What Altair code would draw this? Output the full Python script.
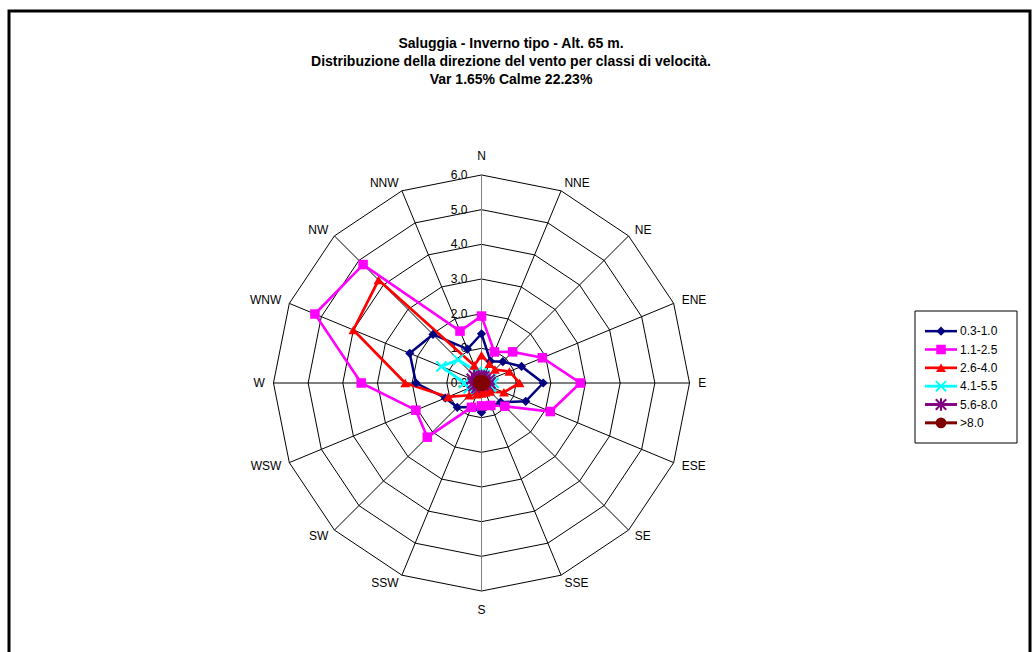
import altair as alt
import pandas as pd

# Wind-rose: frequency (%) per direction sector and wind-speed class
directions = ["N", "NNE", "NE", "ENE", "E", "ESE", "SE", "SSE",
              "S", "SSW", "SW", "WSW", "W", "WNW", "NW", "NNW"]
classes = ["0.3-1.0", "1.1-2.5", "2.6-4.0", "4.1-5.5", "5.6-8.0", ">8.0"]

freq_03_10 = [1.42, 0.68, 0.87, 1.25, 1.78, 1.38, 0.78, 0.72,
              0.85, 0.75, 0.99, 1.13, 1.89, 2.24, 1.98, 1.06]
freq_11_25 = [1.93, 0.97, 1.27, 1.90, 2.85, 2.15, 0.95, 0.70,
              0.66, 0.76, 2.21, 2.05, 3.47, 5.20, 4.83, 1.62]
freq_26_40 = [0.80, 0.60, 0.55, 0.87, 1.10, 0.70, 0.35, 0.30,
              0.30, 0.35, 0.50, 1.05, 2.20, 4.00, 4.20, 0.55]
freq_41_55 = [0.30, 0.25, 0.25, 0.30, 0.35, 0.30, 0.30, 0.25,
              0.25, 0.30, 0.35, 0.40, 0.50, 1.25, 0.95, 0.35]
freq_56_80 = [0.20, 0.20, 0.20, 0.25, 0.25, 0.20, 0.20, 0.20,
              0.20, 0.20, 0.20, 0.25, 0.25, 0.30, 0.30, 0.20]
freq_gt_80 = [0.08, 0.08, 0.08, 0.08, 0.10, 0.08, 0.08, 0.08,
              0.08, 0.08, 0.08, 0.08, 0.10, 0.10, 0.10, 0.08]

ring_values = [0, 1, 2, 3, 4, 5, 6]
ring_labels = ["0.0", "1.0", "2.0", "3.0", "4.0", "5.0", "6.0"]

title_lines = [
    "Saluggia - Inverno tipo - Alt. 65 m.",
    "Distribuzione della direzione del vento per classi di velocità.",
    "Var 1.65% Calme 22.23%",
]

colors = ["#000080", "#FF00FF", "#FF0000", "#00FFFF", "#800080", "#800000"]
shapes = ["diamond", "square", "triangle-up",
          "M-1,-1L1,1M-1,1L1,-1",
          "M-1,-1L1,1M-1,1L1,-1M0,-1.2L0,1.2",
          "circle"]
marker_sizes = [85, 115, 110, 100, 60, 110]
line_widths = [2.5, 3, 3, 2.5, 1.5, 2.5]

series = [freq_03_10, freq_11_25, freq_26_40, freq_41_55, freq_56_80, freq_gt_80]

# ---- tables --------------------------------------------------------------
rows = []
for cls, vals in zip(classes, series):
    for k in range(17):  # closed polygon: repeat first sector at the end
        rows.append({"cls": cls, "k": k, "dir": directions[k % 16],
                     "value": vals[k % 16]})
rose = pd.DataFrame(rows)

ring_rows = []
for r in ring_values[1:]:
    for k in range(17):
        ring_rows.append({"ring": r, "k": k, "value": r})
rings = pd.DataFrame(ring_rows)

spokes = pd.DataFrame({"k": list(range(16)), "dir": directions,
                       "value": [ring_values[-1]] * 16})
ticks = pd.DataFrame({"value": ring_values, "label": ring_labels})
legend_df = pd.DataFrame({"cls": classes})
one = pd.DataFrame({"a": [0]})

# ---- polar layout ----------------------------------------------------------
W, H = 1034, 652
cx, cy, unit = 481.5, 383.0, 34.67   # centre in px, px per percent
xs = alt.Scale(domain=[-cx / unit, (W - cx) / unit], nice=False, zero=False)
ys = alt.Scale(domain=[-(H - cy) / unit, cy / unit], nice=False, zero=False)

def polar(chart, r_expr="datum.value"):
    return chart.transform_calculate(
        px=f"({r_expr}) * sin(datum.k * PI / 8)",
        py=f"({r_expr}) * cos(datum.k * PI / 8)",
    )

X = alt.X("px:Q", scale=xs, axis=None)
Y = alt.Y("py:Q", scale=ys, axis=None)

font = "Liberation Sans"

ring_lines = polar(alt.Chart(rings).mark_line(color="black", strokeWidth=1)).encode(
    x=X, y=Y, detail="ring:N", order="k:Q")

spoke_lines = polar(alt.Chart(spokes).mark_rule(strokeWidth=1)).transform_calculate(
    zx="0", zy="0",
    col="datum.k == 0 || datum.k == 8 ? 'axis' : 'grid'",
).encode(
    x=alt.X("zx:Q", scale=xs, axis=None), y=alt.Y("zy:Q", scale=ys, axis=None),
    x2="px:Q", y2="py:Q",
    color=alt.Color("col:N", scale=alt.Scale(domain=["axis", "grid"],
                                             range=["#808080", "black"]), legend=None),
)

tick_text = alt.Chart(ticks).mark_text(
    align="right", baseline="middle", dx=-14, fontSize=12, font=font, color="black"
).transform_calculate(zx="0").encode(
    x=alt.X("zx:Q", scale=xs, axis=None), y=alt.Y("value:Q", scale=ys, axis=None),
    text="label:N")

def dir_labels(filt, align, baseline, dy=0):
    return polar(alt.Chart(spokes).transform_filter(filt).mark_text(
        align=align, baseline=baseline, dy=dy, fontSize=12, font=font, color="black"),
        "6.25").encode(x=X, y=Y, text="dir:N")

lab_n = dir_labels("datum.k == 0", "center", "bottom", -3)
lab_s = dir_labels("datum.k == 8", "center", "top", 5)
lab_e = dir_labels("datum.k > 0 && datum.k < 8", "left", "middle")
lab_w = dir_labels("datum.k > 8", "right", "middle")

color_scale = alt.Scale(domain=classes, range=colors)
shape_scale = alt.Scale(domain=classes, range=shapes)
size_scale = alt.Scale(domain=classes, range=marker_sizes)
width_scale = alt.Scale(domain=classes, range=line_widths)

rose_lines = polar(alt.Chart(rose).mark_line()).encode(
    x=X, y=Y, order="k:Q",
    color=alt.Color("cls:N", scale=color_scale, legend=None),
    strokeWidth=alt.StrokeWidth("cls:N", scale=width_scale, legend=None),
)

filled_cls = ["0.3-1.0", "1.1-2.5", "2.6-4.0", ">8.0"]
stroked_cls = ["4.1-5.5", "5.6-8.0"]

def rose_points(subset, filled):
    return polar(alt.Chart(rose).transform_filter(
        alt.FieldOneOfPredicate(field="cls", oneOf=subset)).transform_filter("datum.k < 16")
        .mark_point(filled=filled, opacity=1, strokeWidth=2)).encode(
        x=X, y=Y,
        color=alt.Color("cls:N", scale=color_scale, legend=None),
        shape=alt.Shape("cls:N", scale=shape_scale, legend=None),
        size=alt.Size("cls:N", scale=size_scale, legend=None),
    )

radar = alt.layer(ring_lines, spoke_lines, tick_text, lab_n, lab_s, lab_e, lab_w,
                  rose_lines, rose_points(stroked_cls, False),
                  rose_points(filled_cls, True)).resolve_scale(color="independent")

# ---- legend box --------------------------------------------------------------
LY = alt.Y("cls:N", scale=alt.Scale(domain=classes, range=[322, 432], padding=0), axis=None)
leg_box = alt.Chart(one).mark_rect(fill="white", stroke="black", strokeWidth=1).encode(
    x=alt.value(915), x2=alt.value(1017), y=alt.value(311), y2=alt.value(443))
leg_line = alt.Chart(legend_df).mark_rule().encode(
    x=alt.value(925), x2=alt.value(957), y=LY,
    color=alt.Color("cls:N", scale=color_scale, legend=None),
    strokeWidth=alt.StrokeWidth("cls:N", scale=width_scale, legend=None))

def legend_points(subset, filled):
    return alt.Chart(legend_df).transform_filter(
        alt.FieldOneOfPredicate(field="cls", oneOf=subset)).mark_point(
        filled=filled, opacity=1, strokeWidth=2).encode(
        x=alt.value(941), y=LY,
        color=alt.Color("cls:N", scale=color_scale, legend=None),
        shape=alt.Shape("cls:N", scale=shape_scale, legend=None),
        size=alt.Size("cls:N", scale=size_scale, legend=None))

leg_text = alt.Chart(legend_df).mark_text(
    align="left", baseline="middle", fontSize=12, font=font, color="black").encode(
    x=alt.value(960), y=LY, text="cls:N")

legend = alt.layer(leg_box, leg_line, legend_points(stroked_cls, False),
                   legend_points(filled_cls, True), leg_text)

# ---- frame and title ---------------------------------------------------------
frame = alt.Chart(one).mark_rect(fill=None, stroke="black", strokeWidth=3).encode(
    x=alt.value(9), x2=alt.value(1030), y=alt.value(11), y2=alt.value(720))

title_marks = [
    alt.Chart(one).mark_text(text=t, align="center", baseline="middle", fontSize=14,
                             fontWeight="bold", font=font, color="black").encode(
        x=alt.value(511), y=alt.value(yv))
    for t, yv in zip(title_lines, [44, 62, 80])
]

chart = alt.layer(frame, *title_marks, radar, legend).resolve_scale(
    x="independent", y="independent", color="independent", shape="independent",
    size="independent", strokeWidth="independent",
).properties(
    width=W, height=H, padding=0, autosize=alt.AutoSizeParams(type="none"),
    background="white",
).configure_view(stroke=None)

chart.save("out.html", embed_options={"renderer": "svg", "actions": False})
